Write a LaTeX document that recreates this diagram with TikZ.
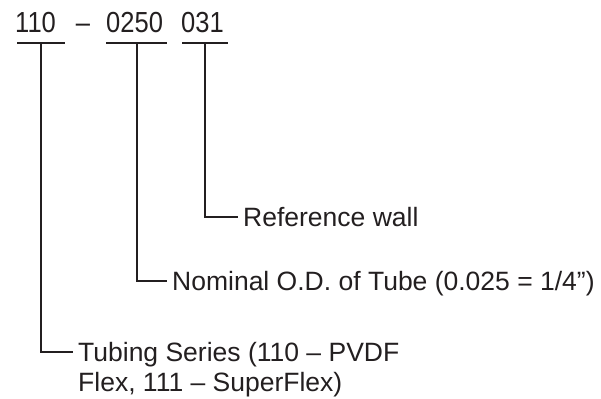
\documentclass[tikz,border=0pt]{standalone}
\usepackage{fontspec}
\setmainfont{Liberation Sans}
\newfontfamily\codefont[FakeStretch=0.88]{Liberation Sans}
\usetikzlibrary{positioning}
\definecolor{ink}{RGB}{35,31,32}

\begin{document}
\begin{tikzpicture}[x=1pt, y=1pt,
  code/.style={anchor=base west, inner sep=0pt, text=ink,
    font=\codefont\fontsize{29}{29}\selectfont},
  lbl/.style={anchor=west, inner xsep=5pt, inner ysep=0pt, text=ink,
    font=\fontsize{26.5}{33}\selectfont, text height=19pt, text depth=0pt},
  lbltwo/.style={anchor=base west, inner xsep=5pt, inner ysep=0pt, text=ink,
    font=\fontsize{26.5}{30}\selectfont, align=left},
  lead/.style={draw=ink, line width=2pt}]
\useasboundingbox[fill=white] (0,0) rectangle (601,398);

% part number
\node[code] (c1) at (15,365) {110};
\node[code, anchor=base] (dash) at (83,365) {–};
\node[code] (c2) at (106,365) {0250};
\node[code] (c3) at (181,365) {031};

% underlines
\draw[lead] (17,355) -- (65,355);
\draw[lead] (106,355) -- (167,355);
\draw[lead] (182,355) -- (228,355);
\coordinate (m1) at (41,355);
\coordinate (m2) at (136.5,355);
\coordinate (m3) at (205,355);

% labels
\node[lbl] (l3) at (238,181) {Reference wall};
\node[lbl] (l2) at (167,117) {Nominal O.D. of Tube (0.025 = 1/4”)};
\node[lbltwo] (l1) at (73,6) {Tubing Series (110 – PVDF\\Flex, 111 – SuperFlex)};

% leaders
\draw[lead] (m3) |- (l3.west);
\draw[lead] (m2) |- (l2.west);
\draw[lead] (m1) |- ([yshift=40pt]l1.base west);

\end{tikzpicture}
\end{document}
